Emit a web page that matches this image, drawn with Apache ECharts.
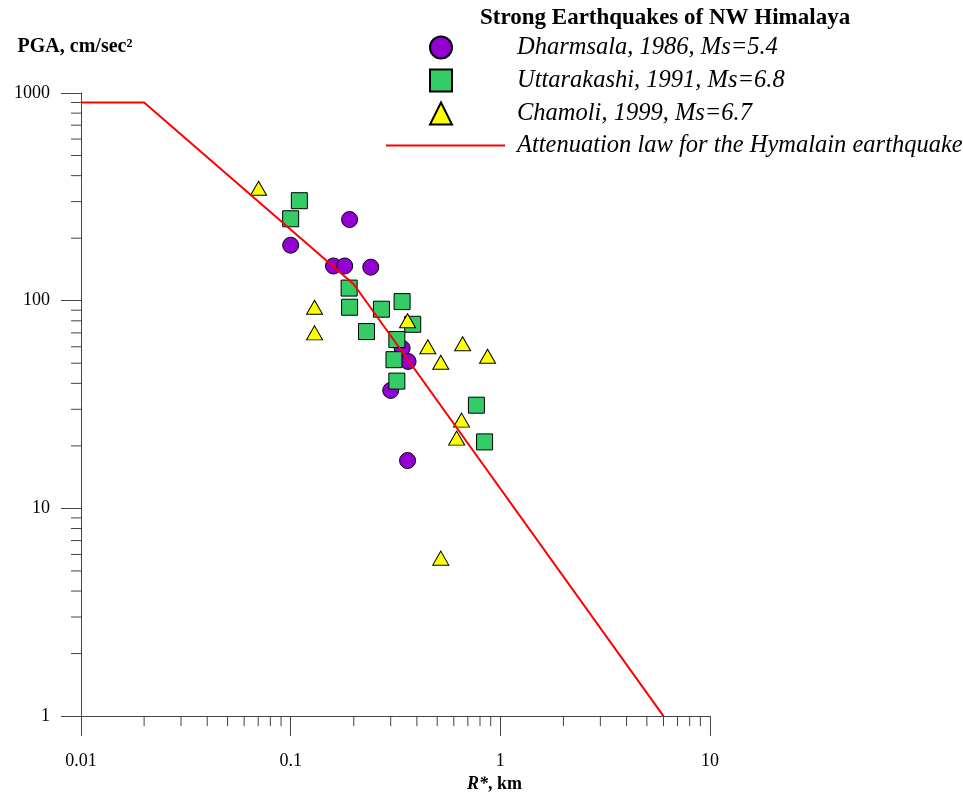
<!DOCTYPE html>
<html>
<head>
<meta charset="utf-8">
<script src="https://cdn.jsdelivr.net/npm/echarts@6/dist/echarts.min.js"></script>
<style>html,body{margin:0;padding:0;background:#fff;}#chart{width:963px;height:798px;}</style>
</head>
<body>
<div id="chart"></div>
<script>
// ---- data ----
const legendTitle = 'Strong Earthquakes of NW Himalaya';
const nameDharmsala = 'Dharmsala, 1986, Ms=5.4';
const nameUttarakashi = 'Uttarakashi, 1991, Ms=6.8';
const nameChamoli = 'Chamoli, 1999, Ms=6.7';
const nameLaw = 'Attenuation law for the Hymalain earthquake';

const dharmsala = [
  [0.100, 185], [0.191, 246], [0.160, 147], [0.181, 147], [0.241, 145],
  [0.340, 59], [0.363, 51], [0.300, 37], [0.361, 17]
];
const uttarakashi = [
  [0.110, 303], [0.100, 248], [0.190, 115], [0.191, 93], [0.271, 91],
  [0.340, 99], [0.382, 77], [0.230, 71], [0.321, 65], [0.311, 52],
  [0.321, 41], [0.769, 31.4], [0.841, 20.9]
];
const chamoli = [
  [0.0703, 348], [0.130, 93], [0.130, 70], [0.361, 80], [0.451, 60],
  [0.661, 62], [0.520, 50.5], [0.869, 54], [0.653, 26.6], [0.619, 21.8],
  [0.520, 5.76]
];
const attenuation = [[0.01, 900], [0.02, 900], [0.2, 120], [6, 1]];

const xMajorTicks = [0.01, 0.1, 1, 10];
const yMajorTicks = [1, 10, 100, 1000];
const xMinorTicks = [0.02, 0.03, 0.04, 0.05, 0.06, 0.07, 0.08, 0.09,
                     0.2, 0.3, 0.4, 0.5, 0.6, 0.7, 0.8, 0.9,
                     2, 3, 4, 5, 6, 7, 8, 9];
const yMinorTicks = [2, 3, 4, 5, 6, 7, 8, 9,
                     20, 30, 40, 50, 60, 70, 80, 90,
                     200, 300, 400, 500, 600, 700, 800, 900];

// ---- chart ----
const serif = '"Liberation Serif", "Times New Roman", serif';
const axisColor = '#444';
const chart = echarts.init(document.getElementById('chart'), null, {renderer: 'canvas'});

const option = {
  animation: false,
  backgroundColor: '#fff',
  title: {
    text: legendTitle, left: 475, top: 2,
    textStyle: {fontFamily: serif, fontWeight: 'bold', fontSize: 23, color: '#000'}
  },
  legend: [
    {
      data: [nameDharmsala, nameUttarakashi, nameChamoli],
      orient: 'vertical', left: 424, top: 30, itemWidth: 22, itemHeight: 22, itemGap: 8,
      selectedMode: false,
      textStyle: {fontFamily: serif, fontStyle: 'italic', fontSize: 24.5, color: '#000', padding: [0, 0, 0, 60]}
    },
    {
      data: [{name: nameLaw, icon: 'rect'}],
      orient: 'vertical', left: 381, top: 128, itemWidth: 119, itemHeight: 2,
      selectedMode: false,
      itemStyle: {color: '#FF0000', borderWidth: 0},
      textStyle: {fontFamily: serif, fontStyle: 'italic', fontSize: 24.5, color: '#000', padding: [0, 0, 0, 7]}
    }
  ],
  grid: {left: 81, top: 93, width: 629, height: 629, containLabel: false},
  xAxis: {
    type: 'log', logBase: 10, min: 0.01, max: 10,
    name: '{i|R*}{b|, km}', nameLocation: 'middle', nameGap: 56,
    nameTextStyle: {
      padding: [0, 0, 0, 198],
      rich: {
        i: {fontFamily: serif, fontStyle: 'italic', fontWeight: 'bold', fontSize: 18, color: '#000'},
        b: {fontFamily: serif, fontWeight: 'bold', fontSize: 18, color: '#000'}
      }
    },
    axisLine: {show: true, lineStyle: {color: axisColor, width: 1}},
    axisTick: {show: true, length: 20, inside: false, lineStyle: {color: axisColor, width: 1}},
    axisLabel: {
      margin: 36, fontFamily: serif, fontSize: 18, color: '#000',
      formatter: v => xMajorTicks.includes(+v.toPrecision(6)) ? String(+v.toPrecision(6)) : ''
    },
    splitLine: {show: false}
  },
  yAxis: {
    type: 'log', logBase: 10, min: 1, max: 1000,
    name: 'PGA, cm/sec²', nameLocation: 'end', nameGap: 36,
    nameTextStyle: {fontFamily: serif, fontWeight: 'bold', fontSize: 20, color: '#000', padding: [0, 12, 0, 0]},
    axisLine: {show: true, lineStyle: {color: axisColor, width: 1}},
    axisTick: {show: true, length: 20, inside: false, lineStyle: {color: axisColor, width: 1}},
    axisLabel: {
      margin: 31, fontFamily: serif, fontSize: 18, color: '#000',
      formatter: v => yMajorTicks.includes(Math.round(v)) ? String(Math.round(v)) : ''
    },
    splitLine: {show: false}
  },
  series: [
    {
      type: 'custom', name: 'xMinor', silent: true, clip: false, z: 1,
      data: xMinorTicks.map(v => [v, 1]),
      renderItem: (params, api) => {
        const p = api.coord([api.value(0), 1]);
        return {type: 'line', shape: {x1: p[0], y1: p[1], x2: p[0], y2: p[1] + 10},
                style: {stroke: axisColor, lineWidth: 1}};
      }
    },
    {
      type: 'custom', name: 'yMinor', silent: true, clip: false, z: 1,
      data: yMinorTicks.map(v => [0.01, v]),
      renderItem: (params, api) => {
        const p = api.coord([0.01, api.value(1)]);
        return {type: 'line', shape: {x1: p[0] - 10, y1: p[1], x2: p[0], y2: p[1]},
                style: {stroke: axisColor, lineWidth: 1}};
      }
    },
    {
      type: 'scatter', name: nameDharmsala, data: dharmsala, symbol: 'circle', symbolSize: 16, z: 3,
      itemStyle: {color: '#9400D3', borderColor: '#000', borderWidth: 1, opacity: 1}
    },
    {
      type: 'scatter', name: nameUttarakashi, data: uttarakashi, symbol: 'rect', symbolSize: 16, z: 4,
      itemStyle: {color: '#33CC66', borderColor: '#000', borderWidth: 1, opacity: 1}
    },
    {
      type: 'scatter', name: nameChamoli, data: chamoli, symbol: 'triangle', symbolSize: [16, 14], z: 5,
      itemStyle: {color: '#FFFF00', borderColor: '#000', borderWidth: 1, opacity: 1}
    },
    {
      type: 'line', name: nameLaw, data: attenuation, symbol: 'none', showSymbol: false, z: 6,
      lineStyle: {color: '#FF0000', width: 2}, itemStyle: {color: '#FF0000'}
    }
  ]
};
chart.setOption(option);
</script>
</body>
</html>
